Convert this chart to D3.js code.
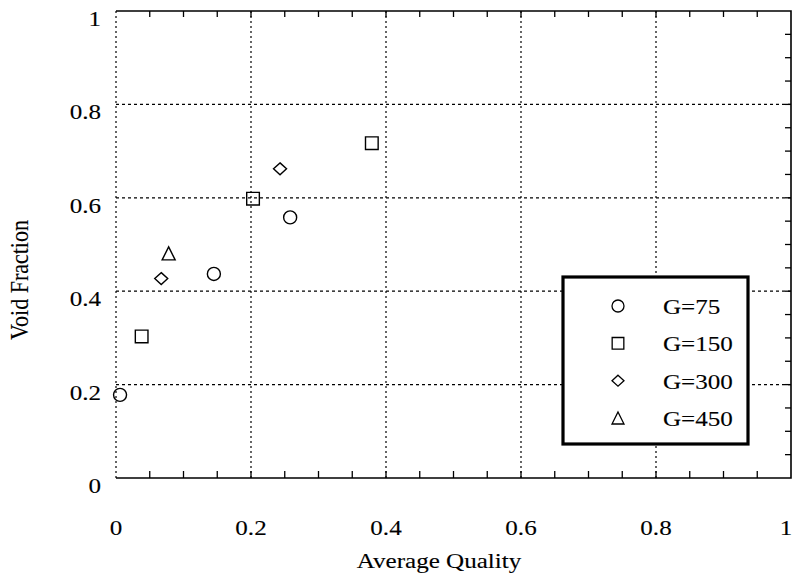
<!DOCTYPE html>
<html><head><meta charset="utf-8">
<script src="https://cdn.jsdelivr.net/npm/d3@7"></script>
<style>body{margin:0;background:#fff}svg{display:block}
text{font-family:'Liberation Serif','Times New Roman',Times,serif;font-size:22px;stroke:#000;stroke-width:0.12px}</style>
</head><body>
<svg id="c" width="795" height="577"></svg>
<script>
const seriesNames = ["G=75","G=150","G=300","G=450"];
const seriesX = [[0.006,0.145,0.258],[0.038,0.203,0.379],[0.067,0.243],[0.078]];
const seriesY = [[0.178,0.437,0.558],[0.303,0.598,0.717],[0.427,0.662],[0.481]];
const tickVals = [0,0.2,0.4,0.6,0.8,1];
const tickLabels = ["0","0.2","0.4","0.6","0.8","1"];
const xTitle = "Average Quality", yTitle = "Void Fraction";

const svg = d3.select("#c");
const x = d3.scaleLinear([0,1],[116,791]);
const y = d3.scaleLinear([0,1],[478,11]);
const SX = 1.14;

const sym = [
  {draw(c,s){const r=Math.sqrt(s/Math.PI);c.moveTo(r,0);c.arc(0,0,r,0,2*Math.PI);}},
  {draw(c,s){const h=Math.sqrt(s)/2;c.moveTo(-h,-h);c.lineTo(h,-h);c.lineTo(h,h);c.lineTo(-h,h);c.closePath();}},
  {draw(c,s){const w=Math.sqrt(s)/2, hh=w*0.92;c.moveTo(0,-hh);c.lineTo(w,0);c.lineTo(0,hh);c.lineTo(-w,0);c.closePath();}},
  {draw(c,s){const w=Math.sqrt(s)/2;c.moveTo(0,-w);c.lineTo(w,w);c.lineTo(-w,w);c.closePath();}}
];
const sizes = [133,160,169,169];

const g = svg.append("g");
g.selectAll(".hg").data([0.2,0.4,0.6,0.8]).join("line")
  .attr("x1",x(0)).attr("x2",x(1)).attr("y1",d=>y(d)).attr("y2",d=>y(d))
  .attr("stroke","#000").attr("stroke-width",1.2).attr("stroke-dasharray","3,3");
g.selectAll(".vg").data([0,0.2,0.4,0.6,0.8]).join("line")
  .attr("y1",y(0)).attr("y2",y(1)).attr("x1",d=>x(d)).attr("x2",d=>x(d))
  .attr("stroke","#000").attr("stroke-width",1.2).attr("stroke-dasharray","2,3");

const frame = d3.path();
frame.moveTo(x(0),y(1));frame.lineTo(x(1),y(1));frame.lineTo(x(1),y(0));frame.lineTo(x(0),y(0));
svg.append("path").attr("d",frame.toString()).attr("fill","none").attr("stroke","#000").attr("stroke-width",1.6);

const minor = d3.range(1,20).map(i=>i*0.05);
svg.append("g").selectAll("line").data(minor).join("line")
  .attr("x1",d=>x(d)).attr("x2",d=>x(d)).attr("y1",y(0)).attr("y2",y(0)-7)
  .attr("stroke","#000").attr("stroke-width",1.3);
svg.append("g").selectAll("line").data(minor).join("line")
  .attr("x1",d=>x(d)).attr("x2",d=>x(d)).attr("y1",y(1)).attr("y2",y(1)+6)
  .attr("stroke","#000").attr("stroke-width",1.3);
svg.append("g").selectAll("line").data(minor).join("line")
  .attr("y1",d=>y(d)).attr("y2",d=>y(d)).attr("x1",x(1)).attr("x2",x(1)-6)
  .attr("stroke","#000").attr("stroke-width",1.3);

svg.append("g").selectAll("text").data(tickVals).join("text")
  .attr("transform",d=>`translate(${Math.min(x(d),786)},535) scale(${SX},1)`)
  .attr("text-anchor","middle")
  .text((d,i)=>tickLabels[i]);
svg.append("g").selectAll("text").data(tickVals).join("text")
  .attr("transform",d=>`translate(101,${y(d)+15}) scale(${SX},1)`)
  .attr("text-anchor","end")
  .text((d,i)=>tickLabels[i]);

svg.append("text").attr("transform",`translate(439,568) scale(${SX},1)`)
  .attr("text-anchor","middle").text(xTitle);
svg.append("text").attr("transform",`translate(28,280) rotate(-90) scale(1,${SX})`)
  .attr("text-anchor","middle").text(yTitle);

seriesNames.forEach((n,i)=>{
  svg.append("g").selectAll("path").data(seriesX[i].map((v,j)=>[v,seriesY[i][j]])).join("path")
    .attr("transform",d=>`translate(${x(d[0])},${y(d[1])})`)
    .attr("d",d3.symbol(sym[i],sizes[i]))
    .attr("fill","none").attr("stroke","#000").attr("stroke-width",1.4);
});

const lg = svg.append("g");
lg.append("rect").attr("x",563).attr("y",277).attr("width",185).attr("height",167)
  .attr("fill","#fff").attr("stroke","#000").attr("stroke-width",3.2);
const rowY = d3.scalePoint().domain(seriesNames).range([306,418]);
seriesNames.forEach((n,i)=>{
  lg.append("path").attr("transform",`translate(618,${rowY(n)})`)
    .attr("d",d3.symbol(sym[i],sizes[i]*0.85)).attr("fill","none").attr("stroke","#000").attr("stroke-width",1.3);
  lg.append("text").attr("transform",`translate(663,${rowY(n)+8}) scale(${SX},1)`)
    .text(n);
});
</script>
</body></html>
